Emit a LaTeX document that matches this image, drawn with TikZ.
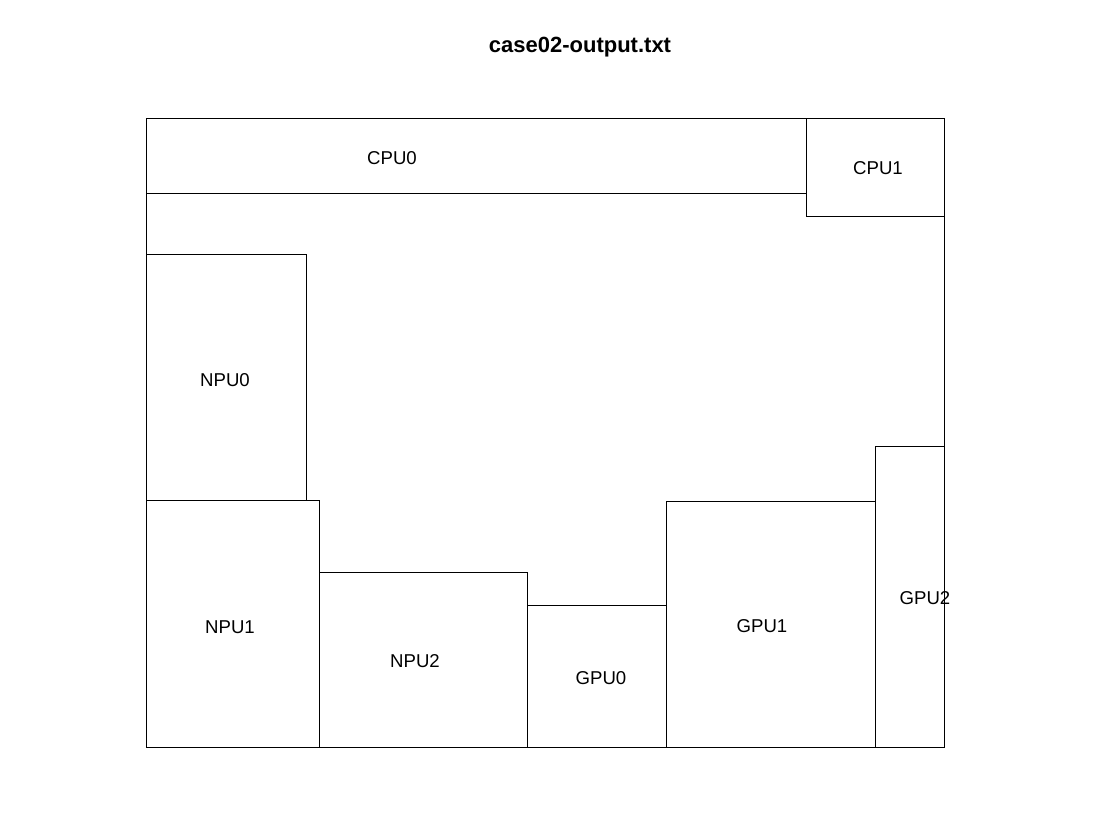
\documentclass[tikz,border=0pt]{standalone}
\usepackage{fontspec}
\setmainfont{Liberation Sans}
\begin{document}
\begin{tikzpicture}[x=1pt,y=-1pt,
  blk/.style={draw=black,line width=0.9pt},
  lbl/.style={font=\fontsize{18.6}{20}\selectfont,inner sep=0pt,anchor=center},
  ttl/.style={font=\fontsize{22}{24}\selectfont\bfseries,inner sep=0pt,anchor=center}]
\useasboundingbox[fill=white] (0,0) rectangle (1120,840);
\node[ttl] (title) at (580,47) {case02-output.txt};
% outer frame
\draw[blk] (146,118) rectangle (944,747);
% blocks
\draw[blk] (146,118) rectangle (806,193);
\draw[blk] (806,118) rectangle (944,216);
\draw[blk] (146,254) rectangle (306,500);
\draw[blk] (146,500) rectangle (319,747);
\draw[blk] (319,572) rectangle (527,747);
\draw[blk] (527,605) rectangle (666,747);
\draw[blk] (666,501) rectangle (875,747);
\draw[blk] (875,446) rectangle (944,747);
% labels
\node[lbl] (cpu0) at (392,158) {CPU0};
\node[lbl] (cpu1) at (878,168) {CPU1};
\node[lbl] (npu0) at (225,380) {NPU0};
\node[lbl] (npu1) at (230,627) {NPU1};
\node[lbl] (npu2) at (415,661) {NPU2};
\node[lbl] (gpu0) at (601,678) {GPU0};
\node[lbl] (gpu1) at (762,626) {GPU1};
\node[lbl] (gpu2) at (925,598) {GPU2};
\end{tikzpicture}
\end{document}
